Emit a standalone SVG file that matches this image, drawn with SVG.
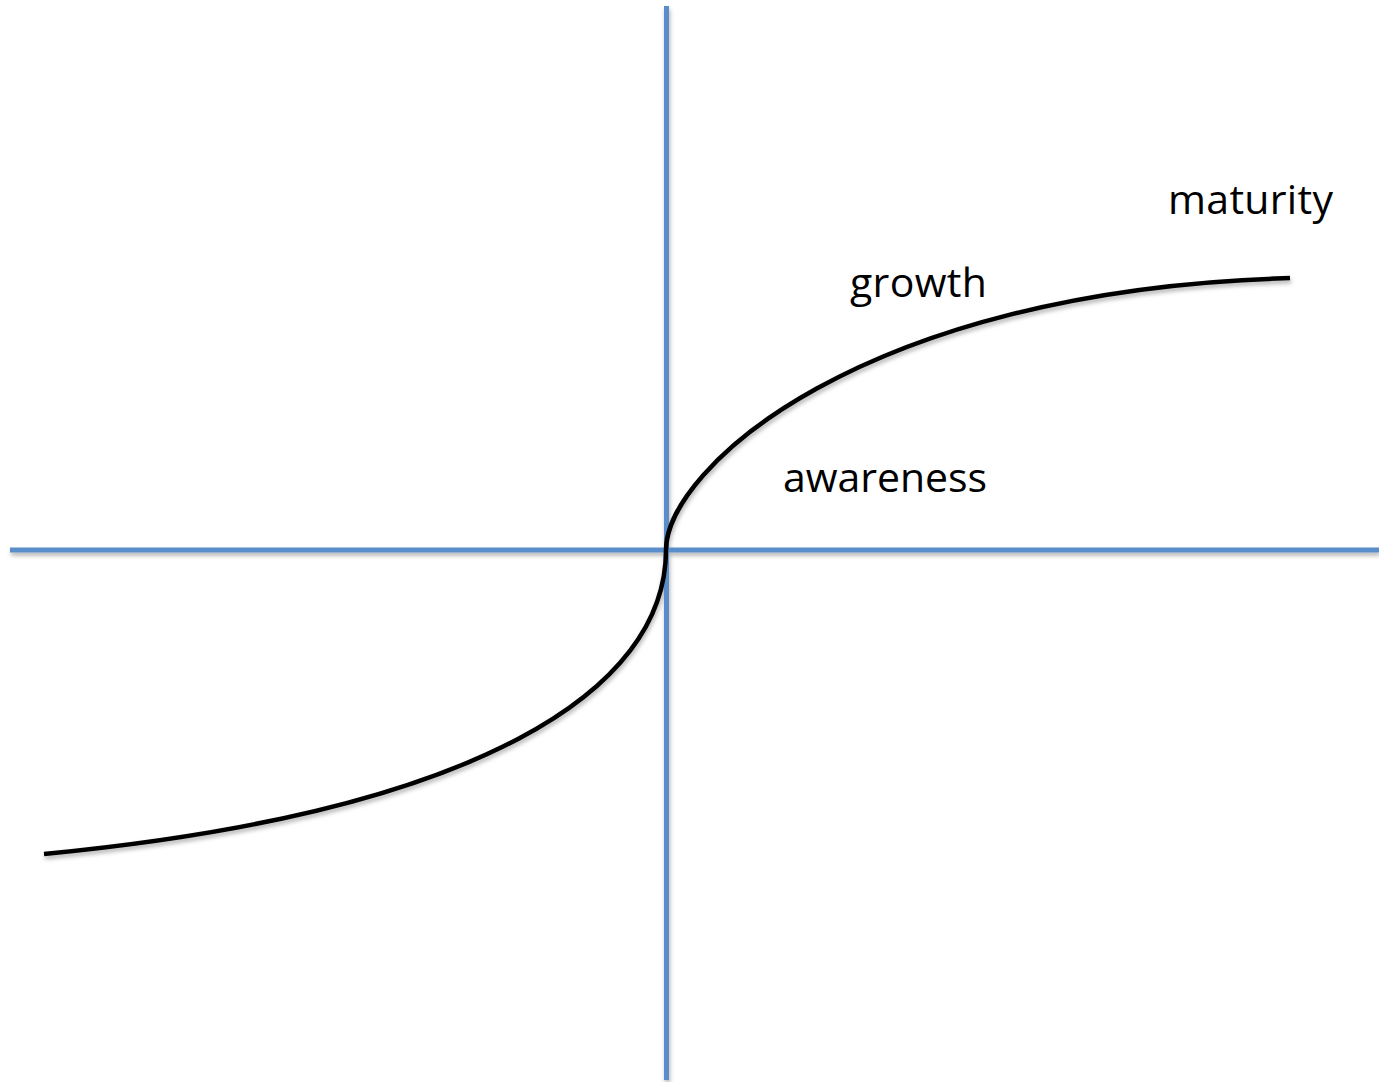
<svg xmlns="http://www.w3.org/2000/svg" width="1379" height="1082" viewBox="0 0 1379 1082">
<style>
.axis{stroke:#5a8ecb;stroke-width:5;fill:none}
.curve{stroke:#000;stroke-width:4.5;fill:none;stroke-linecap:butt}
.lbl{font-family:"Open Sans","Liberation Sans",sans-serif;font-size:41px;fill:#000}
</style>
<defs>
<filter id="sh" x="-5%" y="-5%" width="110%" height="110%">
<feDropShadow dx="1" dy="3" stdDeviation="2" flood-color="#000" flood-opacity="0.3"/>
</filter>
</defs>
<rect width="1379" height="1082" fill="#fff"/>
<g id="connectors" filter="url(#sh)">
<line id="y-axis" class="axis" x1="666.5" y1="6" x2="666.5" y2="1080"/>
<line id="x-axis" class="axis" x1="10" y1="550" x2="1379" y2="550"/>
<path id="s-curve-upper" class="curve" d="M666 550 C666 470 860 290 1290 278"/>
<path id="s-curve-lower" class="curve" d="M666 550 C666 690 480 812 44 854"/>
</g>
<g id="maturity"><text class="lbl" x="1168" y="214" textLength="165">maturity</text></g>
<g id="growth"><text class="lbl" x="850" y="297" textLength="137">growth</text></g>
<g id="awareness"><text class="lbl" x="783" y="492" textLength="204">awareness</text></g>
</svg>
